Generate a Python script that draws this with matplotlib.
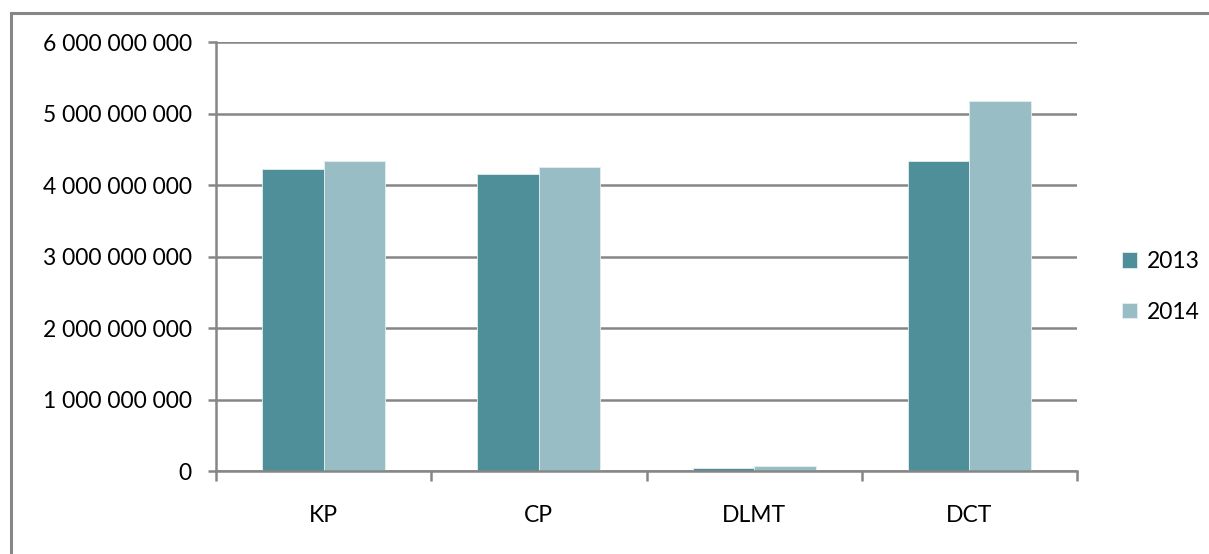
import matplotlib
matplotlib.use("Agg")
import matplotlib.pyplot as plt
import numpy as np
from matplotlib.lines import Line2D
from matplotlib.ticker import FuncFormatter

categories = ["KP", "CP", "DLMT", "DCT"]
years = ["2013", "2014"]
values_2013 = [4.224e9, 4.158e9, 0.05e9, 4.34e9]
values_2014 = [4.336e9, 4.256e9, 0.07e9, 5.175e9]
y_ticks = [0, 1e9, 2e9, 3e9, 4e9, 5e9, 6e9]

C2013, C2014 = "#4f8f99", "#99bdc4"
AXIS = "#868686"
FONT = ["Lato", "DejaVu Sans"]
FS = 16.5

W, H = 1209, 554
fig = plt.figure(figsize=(W / 100, H / 100), dpi=100)
fig.patch.set_facecolor("white")

# chart-area frame (left and top edges only fall inside the image)
fig.add_artist(Line2D([11 / W, 11 / W], [0, 1 - 13 / H], transform=fig.transFigure,
                      color=AXIS, lw=2.2))
fig.add_artist(Line2D([11 / W, 1], [1 - 13 / H, 1 - 13 / H], transform=fig.transFigure,
                      color=AXIS, lw=2.2))

ax = fig.add_axes([216 / W, 1 - 471.3 / H, (1077 - 216) / W, (471.3 - 42.3) / H])

x = np.arange(len(categories))
bw = 1 / 3.5
ax.bar(x - bw / 2, values_2013, width=bw, color=C2013, edgecolor="#e4eef0", lw=0.6,
       label=years[0], zorder=3)
ax.bar(x + bw / 2, values_2014, width=bw, color=C2014, edgecolor="#e4eef0", lw=0.6,
       label=years[1], zorder=3)

ax.set_xlim(-0.5, len(categories) - 0.5)
ax.set_ylim(0, 6e9)
ax.set_yticks(y_ticks)
ax.yaxis.set_major_formatter(FuncFormatter(lambda v, _: f"{int(v):,}".replace(",", " ")))
ax.grid(axis="y", color=AXIS, lw=1.8, zorder=0)

ax.set_xticks(x)
ax.set_xticklabels(categories)
ax.set_xticks(np.arange(-0.5, len(categories)), minor=True)
ax.tick_params(axis="x", which="major", length=0, pad=24)
ax.tick_params(axis="x", which="minor", length=7, width=1.8, color=AXIS, direction="out")
ax.tick_params(axis="y", length=6, width=1.8, color=AXIS, pad=11.5)

for lab in ax.get_xticklabels() + ax.get_yticklabels():
    lab.set_family(FONT)
    lab.set_fontsize(FS)
    lab.set_color("black")

for side in ("top", "right"):
    ax.spines[side].set_visible(False)
for side in ("left", "bottom"):
    ax.spines[side].set_color(AXIS)
    ax.spines[side].set_linewidth(1.8)
ax.spines["bottom"].set_zorder(4)

leg = ax.legend(loc="center left", bbox_to_anchor=(1.028, 0.43), frameon=False,
                handlelength=0.65, handleheight=0.65, handletextpad=0.45,
                labelspacing=1.3, prop={"family": FONT, "size": FS})

fig.savefig("out.png", dpi=100, facecolor="white")
